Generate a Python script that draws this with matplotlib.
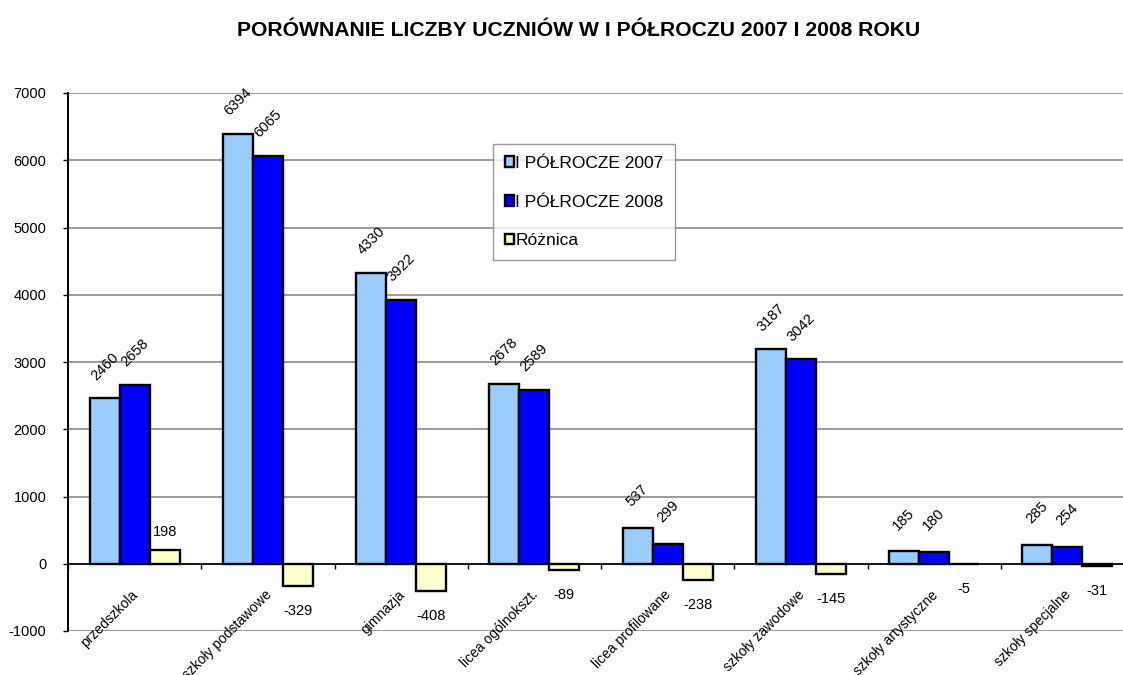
import matplotlib
matplotlib.use("Agg")
import matplotlib.pyplot as plt
import numpy as np

plt.rcParams['font.family'] = ['Liberation Sans', 'DejaVu Sans']

categories = ["przedszkola", "szkoły podstawowe", "gimnazja", "licea ogólnokszt.",
              "licea profilowane", "szkoły zawodowe", "szkoły artystyczne", "szkoły specjalne"]
v2007 = [2460, 6394, 4330, 2678, 537, 3187, 185, 285]
v2008 = [2658, 6065, 3922, 2589, 299, 3042, 180, 254]
diff = [198, -329, -408, -89, -238, -145, -5, -31]
series_names = ["I PÓŁROCZE 2007", "I PÓŁROCZE 2008", "Różnica"]
colors = ["#99CCFF", "#0000FF", "#FFFFCC"]
yticks = list(range(-1000, 7001, 1000))

W, H = 1123, 675
fig = plt.figure(figsize=(W / 100, H / 100), dpi=100)
left, right, top, bottom = 68, 1134, 93, 631
ax = fig.add_axes([left / W, 1 - bottom / H, (right - left) / W, (bottom - top) / H])

x = np.arange(len(categories))
bw = 0.225
series = [v2007, v2008, diff]
bars = []
for k, (vals, col, name) in enumerate(zip(series, colors, series_names)):
    b = ax.bar(x + (k - 1) * bw, vals, bw, color=col, edgecolor="black", linewidth=1.7,
               label=name, zorder=3)
    bars.append(b)

# data labels
for k in range(2):
    for rect, v in zip(bars[k], series[k]):
        cx = rect.get_x() + rect.get_width() / 2
        ax.annotate(str(v), (cx, v), xytext=(0, 32), textcoords="offset pixels",
                    ha="center", va="center", rotation=45, fontsize=10.5, zorder=5)
for rect, v in zip(bars[2], diff):
    cx = rect.get_x() + rect.get_width() / 2
    off = 18 if v > 0 else -25
    ax.annotate(str(v), (cx, v), xytext=(0, off), textcoords="offset pixels",
                ha="center", va="center", fontsize=10.5, zorder=5)

ax.set_xlim(-0.5, len(categories) - 0.5)
ax.set_ylim(-1000, 7000)
ax.set_yticks(yticks)
ax.set_yticklabels([str(t) for t in yticks], fontsize=10.5)
ax.yaxis.grid(True, color="#808080", linewidth=1.1, zorder=0)
ax.set_axisbelow(True)

ax.spines["bottom"].set_position(("data", 0))
ax.spines["bottom"].set_zorder(4)
ax.spines["bottom"].set_linewidth(1.2)
ax.spines["left"].set_linewidth(1.4)
ax.spines["top"].set_visible(False)
ax.spines["right"].set_visible(False)
ax.set_xticks(np.arange(len(categories) + 1) - 0.5)
ax.set_xticklabels([])
ax.tick_params(axis="x", direction="out", length=3.5, width=1, color="black")
ax.tick_params(axis="y", direction="out", length=3.5, width=1, pad=12)

for i, c in enumerate(categories):
    ax.text(i + 0.01, -430, c, rotation=45, rotation_mode="anchor", ha="right", va="center",
            fontsize=10, clip_on=False)

fig.text(579 / W, 1 - 31 / H, "PORÓWNANIE LICZBY UCZNIÓW W I PÓŁROCZU 2007 I 2008 ROKU",
         ha="center", va="center", fontsize=15.2, fontweight="bold")

leg = ax.legend(loc="upper left", bbox_to_anchor=(493 / W, 1 - 144 / H),
                bbox_transform=fig.transFigure, fontsize=12.5, frameon=True, fancybox=False,
                edgecolor="#808080", handlelength=0.55, handleheight=0.55, handletextpad=0.05,
                labelspacing=1.37, borderpad=0.68, borderaxespad=0)
leg.get_frame().set_linewidth(1.0)
leg.set_zorder(10)

fig.savefig("out.png", dpi=100)
